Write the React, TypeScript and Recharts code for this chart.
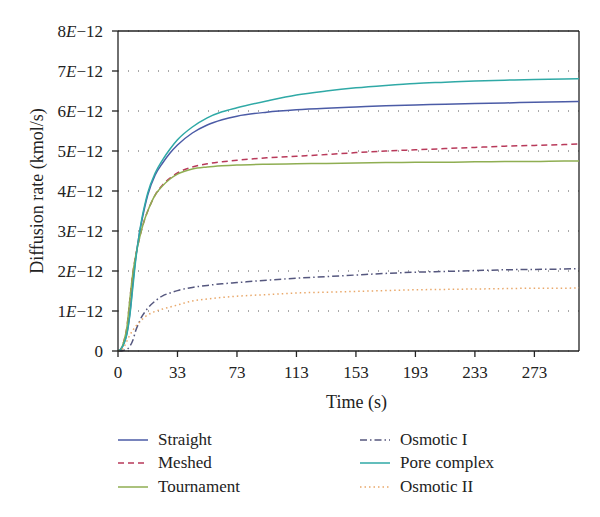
import {
  LineChart,
  Line,
  XAxis,
  YAxis,
  CartesianGrid,
  ReferenceLine,
} from "recharts";

// x positions are sample steps; tick labels below are what the figure prints
const steps = [0, 2, 4, 6, 8, 10, 12, 14, 16, 18, 20, 25, 30, 35, 40, 50, 60, 70, 80, 100, 120, 140, 160, 180, 200, 220, 240, 260, 280, 300, 310];

// values in units of 1E-12 kmol/s
const straight = [0, 0.05, 0.2, 0.45, 0.95, 1.7, 2.35, 2.85, 3.25, 3.6, 3.9, 4.4, 4.7, 4.95, 5.15, 5.45, 5.65, 5.78, 5.87, 5.97, 6.03, 6.07, 6.1, 6.13, 6.15, 6.17, 6.19, 6.2, 6.22, 6.23, 6.24];
const meshed = [0, 0.05, 0.25, 0.6, 1.3, 1.95, 2.4, 2.75, 3.05, 3.3, 3.5, 3.9, 4.15, 4.32, 4.45, 4.6, 4.68, 4.73, 4.77, 4.83, 4.87, 4.91, 4.96, 5.0, 5.03, 5.06, 5.09, 5.12, 5.14, 5.16, 5.18];
const tournament = [0, 0.05, 0.25, 0.6, 1.3, 1.95, 2.4, 2.75, 3.05, 3.3, 3.5, 3.9, 4.13, 4.3, 4.42, 4.55, 4.6, 4.63, 4.65, 4.67, 4.68, 4.69, 4.7, 4.71, 4.72, 4.72, 4.73, 4.74, 4.74, 4.75, 4.75];
const osmotic1 = [0, 0, 0.02, 0.04, 0.12, 0.27, 0.52, 0.7, 0.86, 0.97, 1.07, 1.25, 1.38, 1.45, 1.51, 1.59, 1.64, 1.68, 1.71, 1.77, 1.82, 1.86, 1.9, 1.94, 1.97, 1.99, 2.01, 2.03, 2.04, 2.05, 2.06];
const pore = [0, 0.05, 0.18, 0.42, 0.9, 1.6, 2.3, 2.85, 3.3, 3.65, 3.95, 4.45, 4.78, 5.05, 5.28, 5.6, 5.83, 5.98, 6.08, 6.25, 6.4, 6.5, 6.58, 6.64, 6.69, 6.72, 6.75, 6.77, 6.79, 6.8, 6.81];
const osmotic2 = [0, 0.02, 0.1, 0.25, 0.4, 0.52, 0.62, 0.7, 0.78, 0.85, 0.9, 0.99, 1.05, 1.1, 1.15, 1.25, 1.3, 1.34, 1.37, 1.41, 1.45, 1.47, 1.49, 1.51, 1.53, 1.54, 1.55, 1.56, 1.57, 1.57, 1.58];

const xTicks = [0, 40, 80, 120, 160, 200, 240, 280];
const xTickLabels = ["0", "33", "73", "113", "153", "193", "233", "273"];
const yTicks = [0, 1, 2, 3, 4, 5, 6, 7, 8];

const FONT = '"Liberation Serif", "Times New Roman", serif';

const series = [
  { key: "straight", name: "Straight", color: "#4b5ba6", dash: undefined },
  { key: "meshed", name: "Meshed", color: "#b8395a", dash: "6 4" },
  { key: "tournament", name: "Tournament", color: "#8fae52", dash: undefined },
  { key: "osmotic1", name: "Osmotic I", color: "#55577e", dash: "7 3 1.5 3" },
  { key: "pore", name: "Pore complex", color: "#2fa9a6", dash: undefined },
  { key: "osmotic2", name: "Osmotic II", color: "#e9a86a", dash: "1.5 3" },
];

const data = steps.map((s, i) => ({
  step: s,
  straight: straight[i],
  meshed: meshed[i],
  tournament: tournament[i],
  osmotic1: osmotic1[i],
  pore: pore[i],
  osmotic2: osmotic2[i],
}));

function YTick(props: any) {
  const { x, y, payload } = props;
  const v = payload.value;
  return (
    <text x={x} y={y} dy="0.35em" textAnchor="end" fontFamily={FONT} fontSize={17} fill="#222">
      {v === 0 ? (
        "0"
      ) : (
        <>
          {v}
          <tspan fontStyle="italic">E</tspan>
          {"\u221212"}
        </>
      )}
    </text>
  );
}

function LegendItem({ s }: { s: (typeof series)[number] }) {
  return (
    <div style={{ display: "flex", alignItems: "center", height: 23.5 }}>
      <svg width={30} height={6} style={{ marginRight: 10 }}>
        <line x1={0} y1={3} x2={30} y2={3} stroke={s.color} strokeWidth={1.5} strokeDasharray={s.dash} />
      </svg>
      <span>{s.name}</span>
    </div>
  );
}

export default function App() {
  return (
    <div style={{ position: "absolute", left: 0, top: 0, width: 600, height: 517, background: "#fff" }}>
      <LineChart width={600} height={420} data={data} margin={{ top: 31, right: 21, bottom: 0, left: 0 }}>
        <CartesianGrid horizontal vertical={false} stroke="#555" strokeDasharray="1 9" />
        <XAxis
          dataKey="step"
          type="number"
          domain={[0, 310]}
          ticks={xTicks}
          tickFormatter={(v: number) => xTickLabels[xTicks.indexOf(v)]}
          height={69}
          tickSize={6}
          tickMargin={9}
          stroke="#222"
          strokeWidth={1.3}
          tick={{ fill: "#222", fontFamily: FONT, fontSize: 17 }}
          label={{ value: "Time (s)", position: "insideBottom", offset: 12, dx: 8, fill: "#222", fontFamily: FONT, fontSize: 18 }}
        />
        <YAxis
          type="number"
          domain={[0, 8]}
          ticks={yTicks}
          width={118}
          tickSize={6}
          tickMargin={9}
          stroke="#222"
          strokeWidth={1.3}
          tick={<YTick />}
          label={{
            content: () => (
              <text x={43} y={191} transform="rotate(-90 43 191)" textAnchor="middle" fontFamily={FONT} fontSize={18} fill="#222">
                Diffusion rate (kmol/s)
              </text>
            ),
          }}
        />
        <ReferenceLine y={8} stroke="#222" strokeWidth={1.3} />
        <ReferenceLine x={310} stroke="#222" strokeWidth={1.3} />
        {series.map((s) => (
          <Line
            key={s.key}
            type="monotone"
            dataKey={s.key}
            name={s.name}
            stroke={s.color}
            strokeWidth={1.5}
            strokeDasharray={s.dash}
            dot={false}
            isAnimationActive={false}
          />
        ))}
      </LineChart>
      <div
        style={{
          position: "absolute",
          top: 428,
          left: 118,
          width: 470,
          display: "grid",
          gridTemplateColumns: "242px 200px",
          gridAutoFlow: "column",
          gridTemplateRows: "repeat(3, 23.5px)",
          fontFamily: FONT,
          fontSize: 17,
          color: "#222",
        }}
      >
        {series.map((s) => (
          <LegendItem key={s.key} s={s} />
        ))}
      </div>
    </div>
  );
}
